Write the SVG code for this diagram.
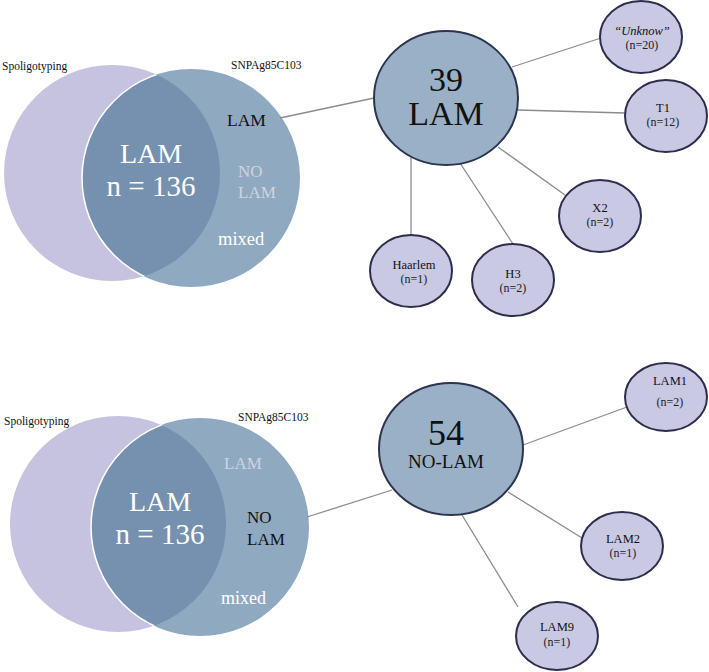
<svg xmlns="http://www.w3.org/2000/svg" width="709" height="672" viewBox="0 0 709 672">
<defs>
<style>
text{font-family:"Liberation Serif","DejaVu Serif",serif;text-anchor:middle}
.st{text-anchor:start}
.lft{fill:#c5c3df}
.rgt{fill:#8fa9c1}
.ovl{fill:#7691b0}
.edge{fill:none;stroke:#ffffff;stroke-width:1.5}
.big{fill:#9ab0c6;stroke:#2c3450;stroke-width:2}
.sm{fill:#c9c9e3;stroke:#2c2e4c;stroke-width:2}
.con line{stroke:#8c8c8c;stroke-width:1.3}
.lbl{font-size:12.5px;fill:#111}
.sub{font-size:12px;fill:#222}
.ttl{font-size:11.5px;fill:#111}
</style>
<clipPath id="clipA"><circle cx="112" cy="173" r="108"/></clipPath>
<clipPath id="clipB"><circle cx="118" cy="524" r="108"/></clipPath>
</defs>
<rect width="709" height="672" fill="#ffffff"/>

<g id="venn-top">
<circle class="lft" cx="112" cy="173" r="108"/>
<circle class="rgt" cx="191" cy="178" r="109"/>
<circle class="ovl" cx="191" cy="178" r="109" clip-path="url(#clipA)"/>
<circle class="edge" cx="191" cy="178" r="109" clip-path="url(#clipA)"/>
<text x="2" y="70" class="st ttl">Spoligotyping</text>
<text x="231" y="69" class="st ttl">SNPAg85C103</text>
<text x="151" y="163" style="font-size:28px" fill="#ffffff">LAM</text>
<text x="151" y="196" style="font-size:29px" fill="#ffffff">n = 136</text>
<text x="227" y="126" class="st" style="font-size:17.5px" fill="#111">LAM</text>
<text x="238" y="177" class="st" style="font-size:17px" fill="#cdd5e0">NO</text>
<text x="238" y="198" class="st" style="font-size:17px" fill="#cdd5e0">LAM</text>
<text x="218" y="245" class="st" style="font-size:18.5px" fill="#ffffff">mixed</text>
</g>

<g id="venn-bottom">
<circle class="lft" cx="118" cy="524" r="108"/>
<circle class="rgt" cx="200" cy="527" r="109"/>
<circle class="ovl" cx="200" cy="527" r="109" clip-path="url(#clipB)"/>
<circle class="edge" cx="200" cy="527" r="109" clip-path="url(#clipB)"/>
<text x="4" y="425" class="st ttl">Spoligotyping</text>
<text x="238" y="421" class="st ttl">SNPAg85C103</text>
<text x="160" y="511" style="font-size:28px" fill="#ffffff">LAM</text>
<text x="160" y="544" style="font-size:29px" fill="#ffffff">n = 136</text>
<text x="224" y="469" class="st" style="font-size:17px" fill="#cdd5e0">LAM</text>
<text x="247" y="523" class="st" style="font-size:17px" fill="#111">NO</text>
<text x="247" y="545" class="st" style="font-size:17px" fill="#111">LAM</text>
<text x="221" y="604" class="st" style="font-size:18px" fill="#ffffff">mixed</text>
</g>

<g id="connectors" class="con">
<line x1="280" y1="118" x2="374" y2="98"/>
<line x1="512" y1="67" x2="601" y2="38"/>
<line x1="518" y1="110" x2="625" y2="113"/>
<line x1="498" y1="147" x2="565" y2="195"/>
<line x1="460" y1="163" x2="513" y2="244"/>
<line x1="411" y1="158" x2="411" y2="235"/>
<line x1="307" y1="517" x2="392" y2="490"/>
<line x1="523" y1="445" x2="627" y2="407"/>
<line x1="508" y1="492" x2="582" y2="538"/>
<line x1="462" y1="515" x2="518" y2="607"/>
</g>

<g id="lam39">
<ellipse class="big" cx="446" cy="98" rx="72" ry="67"/>
<text x="446" y="91" style="font-size:34px" fill="#111">39</text>
<text x="446" y="125" style="font-size:34px" fill="#111">LAM</text>
</g>

<g id="unknow">
<ellipse class="sm" cx="641" cy="37" rx="41" ry="36"/>
<text x="642" y="35" class="lbl" font-style="italic">“Unknow”</text>
<text x="642" y="49" class="sub">(n=20)</text>
</g>
<g id="t1">
<ellipse class="sm" cx="666" cy="116" rx="41" ry="36"/>
<text x="663" y="112" class="lbl">T1</text>
<text x="663" y="126" class="sub">(n=12)</text>
</g>
<g id="x2">
<ellipse class="sm" cx="600" cy="216" rx="41" ry="36"/>
<text x="600" y="212" class="lbl">X2</text>
<text x="600" y="226" class="sub">(n=2)</text>
</g>
<g id="haarlem">
<ellipse class="sm" cx="411" cy="271" rx="41" ry="36"/>
<text x="414" y="269" class="lbl">Haarlem</text>
<text x="414" y="283" class="sub">(n=1)</text>
</g>
<g id="h3">
<ellipse class="sm" cx="513" cy="280" rx="41" ry="36"/>
<text x="513" y="278" class="lbl">H3</text>
<text x="513" y="292" class="sub">(n=2)</text>
</g>

<g id="nolam54">
<ellipse class="big" cx="451" cy="449" rx="72" ry="66"/>
<text x="446" y="445" style="font-size:36px" fill="#111">54</text>
<text x="446" y="468" style="font-size:19px" fill="#111">NO-LAM</text>
</g>
<g id="lam1">
<ellipse class="sm" cx="666" cy="397" rx="41" ry="34"/>
<text x="670" y="385" class="lbl">LAM1</text>
<text x="670" y="406" class="sub">(n=2)</text>
</g>
<g id="lam2">
<ellipse class="sm" cx="622" cy="546" rx="41" ry="34"/>
<text x="623" y="543" class="lbl">LAM2</text>
<text x="623" y="557" class="sub">(n=1)</text>
</g>
<g id="lam9">
<ellipse class="sm" cx="557" cy="636" rx="41" ry="34"/>
<text x="557" y="631" class="lbl">LAM9</text>
<text x="557" y="646" class="sub">(n=1)</text>
</g>
</svg>
